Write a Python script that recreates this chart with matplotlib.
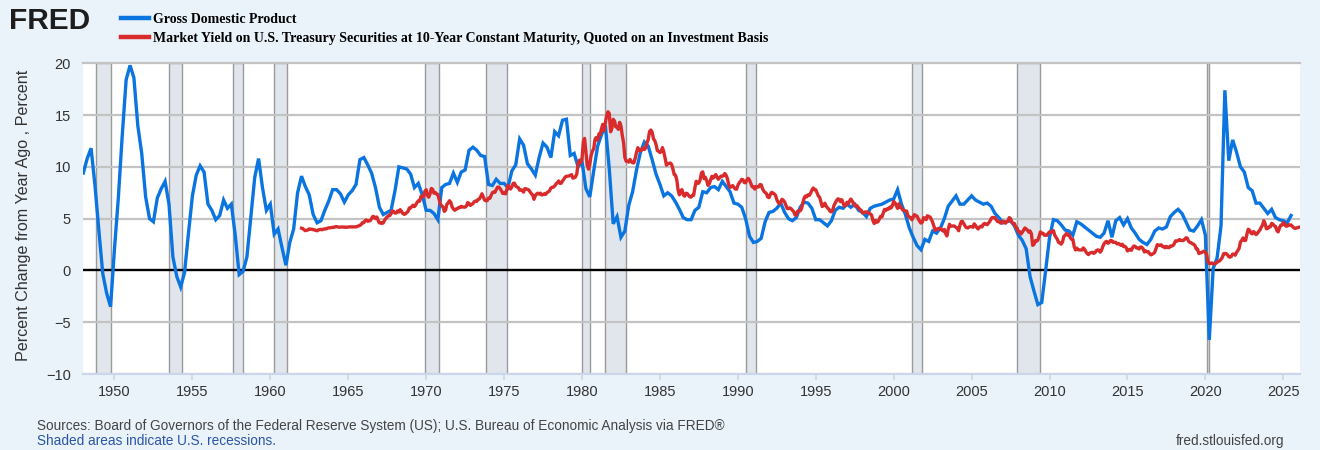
import matplotlib
matplotlib.use("Agg")
import matplotlib.pyplot as plt
import matplotlib.dates as mdates
import pandas as pd

# ---------------- data ----------------
gdp_label = "Gross Domestic Product"
yield_label = ("Market Yield on U.S. Treasury Securities at 10-Year Constant Maturity, "
               "Quoted on an Investment Basis")

# GDP, percent change from year ago, quarterly from 1948 Q1
gdp_yoy = [
    9.4, 10.8, 11.8, 8.2,     # 1948
    3.8, -0.3, -2.2, -3.5,    # 1949
    2.1, 7.0, 13.0, 18.4,     # 1950
    19.8, 18.6, 14.0, 11.3,   # 1951
    7.1, 5.0, 4.7, 7.0,       # 1952
    7.9, 8.6, 6.4, 1.3,       # 1953
    -0.6, -1.6, -0.2, 3.6,    # 1954
    7.2, 9.2, 10.1, 9.5,      # 1955
    6.4, 5.8, 4.9, 5.3,       # 1956
    6.8, 6.0, 6.4, 3.4,       # 1957
    -0.4, -0.1, 1.3, 5.1,     # 1958
    9.0, 10.8, 8.0, 5.8,      # 1959
    6.4, 3.5, 4.0, 2.2,       # 1960
    0.5, 2.7, 4.0, 7.5,       # 1961
    9.1, 8.1, 7.3, 5.4,       # 1962
    4.6, 4.8, 5.8, 6.7,       # 1963
    7.8, 7.8, 7.4, 6.6,       # 1964
    7.3, 7.7, 8.3, 10.7,      # 1965
    10.9, 10.2, 9.4, 8.0,     # 1966
    6.1, 5.4, 5.6, 5.8,       # 1967
    7.7, 10.0, 9.9, 9.8,      # 1968
    9.3, 8.0, 8.4, 7.3,       # 1969
    5.8, 5.8, 5.5, 4.9,       # 1970
    8.0, 8.3, 8.4, 9.4,       # 1971
    8.5, 9.5, 9.7, 11.6,      # 1972
    11.9, 11.6, 11.1, 11.0,   # 1973
    8.3, 8.2, 8.8, 8.4,       # 1974
    8.4, 8.0, 9.6, 10.2,      # 1975
    12.7, 12.1, 10.3, 9.8,    # 1976
    9.2, 10.9, 12.3, 11.9,    # 1977
    10.9, 13.4, 13.0, 14.5,   # 1978
    14.6, 11.1, 11.3, 10.0,   # 1979
    10.5, 7.9, 7.1, 9.6,      # 1980
    12.0, 13.1, 14.0, 9.8,    # 1981
    4.5, 5.2, 3.2, 3.8,       # 1982
    6.3, 7.6, 9.7, 11.4,      # 1983
    12.4, 12.0, 10.7, 9.3,    # 1984
    8.3, 7.2, 7.5, 7.2,       # 1985
    6.6, 5.9, 5.1, 4.9,       # 1986
    4.9, 5.8, 6.1, 7.6,       # 1987
    7.5, 8.0, 8.1, 7.8,       # 1988
    8.6, 8.1, 7.6, 6.5,       # 1989
    6.4, 6.1, 5.0, 3.3,       # 1990
    2.7, 2.8, 3.1, 4.7,       # 1991
    5.6, 5.7, 6.0, 6.5,       # 1992
    5.6, 5.0, 4.8, 5.1,       # 1993
    6.1, 6.6, 6.5, 6.0,       # 1994
    4.9, 4.9, 4.6, 4.3,       # 1995
    4.8, 5.8, 6.1, 6.0,       # 1996
    6.4, 6.1, 6.4, 5.8,       # 1997
    5.6, 5.2, 6.0, 6.2,       # 1998
    6.3, 6.4, 6.6, 6.8,       # 1999
    6.9, 7.8, 6.4, 5.4,       # 2000
    4.1, 3.2, 2.4, 2.0,       # 2001
    3.0, 2.8, 3.8, 3.6,       # 2002
    4.1, 5.0, 6.2, 6.7,       # 2003
    7.2, 6.4, 6.4, 6.8,       # 2004
    7.2, 6.8, 6.6, 6.4,       # 2005
    6.5, 6.2, 5.5, 5.1,       # 2006
    4.6, 4.7, 4.8, 4.3,       # 2007
    3.4, 2.9, 2.1, -0.6,      # 2008
    -2.0, -3.3, -3.1, 0.0,    # 2009
    3.2, 4.9, 4.8, 4.4,       # 2010
    3.9, 3.8, 3.4, 4.7,       # 2011
    4.5, 4.2, 3.9, 3.6,       # 2012
    3.3, 3.2, 3.6, 4.8,       # 2013
    3.2, 4.8, 5.1, 4.4,       # 2014
    5.0, 4.1, 3.6, 3.0,       # 2015
    2.7, 2.5, 3.0, 3.8,       # 2016
    4.1, 4.0, 4.2, 5.2,       # 2017
    5.6, 5.9, 5.5, 4.7,       # 2018
    3.9, 3.8, 4.3, 4.9,       # 2019
    3.4, -6.7, 0.2, 1.2,      # 2020
    4.3, 17.4, 10.6, 12.6,    # 2021
    11.4, 10.0, 9.5, 8.0,     # 2022
    7.7, 6.5, 6.5, 6.0,       # 2023
    5.5, 5.9, 5.1, 4.9,       # 2024
    4.8, 4.6, 5.3,            # 2025
]

# 10-year Treasury constant maturity yield, percent, monthly from Jan 1962
dgs10 = [
    4.08, 4.04, 3.93, 3.84, 3.87, 3.91, 4.01, 3.98, 3.98, 3.93, 3.92, 3.86,  # 1962
    3.83, 3.92, 3.93, 3.97, 3.93, 3.99, 4.02, 4.00, 4.08, 4.11, 4.12, 4.13,  # 1963
    4.17, 4.15, 4.22, 4.23, 4.20, 4.17, 4.19, 4.19, 4.20, 4.19, 4.15, 4.18,  # 1964
    4.19, 4.21, 4.21, 4.20, 4.21, 4.21, 4.20, 4.25, 4.29, 4.35, 4.45, 4.62,  # 1965
    4.61, 4.83, 4.87, 4.75, 4.78, 4.81, 5.02, 5.22, 5.18, 5.01, 5.16, 4.84,  # 1966
    4.58, 4.63, 4.54, 4.59, 4.85, 5.02, 5.16, 5.28, 5.30, 5.48, 5.75, 5.70,  # 1967
    5.53, 5.56, 5.74, 5.64, 5.87, 5.72, 5.50, 5.42, 5.46, 5.58, 5.70, 6.03,  # 1968
    6.04, 6.19, 6.30, 6.17, 6.32, 6.57, 6.72, 6.69, 7.16, 7.10, 7.14, 7.65,  # 1969
    7.79, 7.24, 7.07, 7.39, 7.91, 7.84, 7.46, 7.53, 7.39, 7.33, 6.84, 6.39,  # 1970
    6.24, 6.11, 5.70, 5.83, 6.39, 6.52, 6.73, 6.58, 6.14, 5.93, 5.81, 5.93,  # 1971
    5.95, 6.08, 6.07, 6.19, 6.13, 6.11, 6.11, 6.21, 6.55, 6.48, 6.28, 6.36,  # 1972
    6.46, 6.64, 6.71, 6.67, 6.85, 6.90, 7.13, 7.40, 7.09, 6.79, 6.73, 6.74,  # 1973
    6.99, 6.96, 7.21, 7.51, 7.58, 7.54, 7.81, 8.04, 8.04, 7.90, 7.68, 7.43,  # 1974
    7.50, 7.39, 7.73, 8.23, 8.06, 7.86, 8.06, 8.40, 8.43, 8.14, 8.05, 8.00,  # 1975
    7.74, 7.79, 7.73, 7.56, 7.90, 7.86, 7.83, 7.77, 7.59, 7.41, 7.29, 6.87,  # 1976
    7.21, 7.39, 7.46, 7.37, 7.46, 7.28, 7.33, 7.40, 7.34, 7.52, 7.58, 7.69,  # 1977
    7.96, 8.03, 8.04, 8.15, 8.35, 8.46, 8.64, 8.41, 8.42, 8.64, 8.81, 9.01,  # 1978
    9.10, 9.10, 9.12, 9.18, 9.25, 8.91, 8.95, 9.03, 9.33, 10.30, 10.65, 10.39,  # 1979
    10.80, 12.41, 12.75, 11.47, 10.18, 9.78, 10.25, 11.10, 11.51, 11.75, 12.68, 12.84,  # 1980
    12.57, 13.19, 13.12, 13.68, 14.10, 13.47, 14.28, 14.94, 15.32, 15.15, 13.39, 13.72,  # 1981
    14.59, 14.43, 13.86, 13.87, 13.62, 14.30, 13.95, 13.06, 12.34, 10.91, 10.55, 10.54,  # 1982
    10.46, 10.72, 10.51, 10.40, 10.38, 10.85, 11.38, 11.85, 11.65, 11.54, 11.69, 11.83,  # 1983
    11.67, 11.84, 12.32, 12.63, 13.41, 13.56, 13.36, 12.72, 12.52, 12.16, 11.57, 11.50,  # 1984
    11.38, 11.51, 11.86, 11.43, 10.85, 10.16, 10.31, 10.33, 10.37, 10.24, 9.78, 9.26,  # 1985
    9.19, 8.70, 7.78, 7.30, 7.71, 7.80, 7.30, 7.17, 7.45, 7.43, 7.25, 7.11,  # 1986
    7.08, 7.25, 7.25, 8.02, 8.61, 8.40, 8.45, 8.76, 9.42, 9.52, 8.86, 8.99,  # 1987
    8.67, 8.21, 8.37, 8.72, 9.09, 8.92, 9.06, 9.26, 8.98, 8.80, 8.96, 9.11,  # 1988
    9.09, 9.17, 9.36, 9.18, 8.86, 8.28, 8.02, 8.11, 8.19, 8.01, 7.87, 7.84,  # 1989
    8.21, 8.47, 8.59, 8.79, 8.76, 8.48, 8.47, 8.75, 8.89, 8.72, 8.39, 8.08,  # 1990
    8.09, 7.85, 8.11, 8.04, 8.07, 8.28, 8.27, 7.90, 7.65, 7.53, 7.42, 7.09,  # 1991
    7.03, 7.34, 7.54, 7.48, 7.39, 7.26, 6.84, 6.59, 6.42, 6.59, 6.87, 6.77,  # 1992
    6.60, 6.26, 5.98, 5.97, 6.04, 5.96, 5.81, 5.68, 5.36, 5.33, 5.72, 5.77,  # 1993
    5.75, 5.97, 6.48, 6.97, 7.18, 7.10, 7.30, 7.24, 7.46, 7.74, 7.96, 7.81,  # 1994
    7.78, 7.47, 7.20, 7.06, 6.63, 6.17, 6.28, 6.49, 6.20, 6.04, 5.93, 5.71,  # 1995
    5.65, 5.81, 6.27, 6.51, 6.74, 6.91, 6.87, 6.64, 6.83, 6.53, 6.20, 6.30,  # 1996
    6.58, 6.42, 6.69, 6.89, 6.71, 6.49, 6.22, 6.30, 6.21, 6.03, 5.88, 5.81,  # 1997
    5.54, 5.57, 5.65, 5.64, 5.65, 5.50, 5.46, 5.34, 4.81, 4.53, 4.83, 4.65,  # 1998
    4.72, 5.00, 5.23, 5.18, 5.54, 5.90, 5.79, 5.94, 5.92, 6.11, 6.03, 6.28,  # 1999
    6.66, 6.52, 6.26, 5.99, 6.44, 6.10, 6.05, 5.83, 5.80, 5.74, 5.72, 5.24,  # 2000
    5.16, 5.10, 4.89, 5.14, 5.39, 5.28, 5.24, 4.97, 4.73, 4.57, 4.65, 5.09,  # 2001
    5.04, 4.91, 5.28, 5.21, 5.16, 4.93, 4.65, 4.26, 3.87, 3.94, 4.05, 4.03,  # 2002
    4.05, 3.90, 3.81, 3.96, 3.57, 3.33, 3.98, 4.45, 4.27, 4.29, 4.30, 4.27,  # 2003
    4.15, 4.08, 3.83, 4.35, 4.72, 4.73, 4.50, 4.28, 4.13, 4.10, 4.19, 4.23,  # 2004
    4.22, 4.17, 4.50, 4.34, 4.14, 4.00, 4.18, 4.26, 4.20, 4.46, 4.54, 4.47,  # 2005
    4.42, 4.57, 4.72, 4.99, 5.11, 5.11, 5.09, 4.88, 4.72, 4.73, 4.60, 4.56,  # 2006
    4.76, 4.72, 4.56, 4.69, 4.75, 5.10, 5.00, 4.67, 4.52, 4.53, 4.15, 4.10,  # 2007
    3.74, 3.74, 3.51, 3.68, 3.88, 4.10, 4.01, 3.89, 3.69, 3.81, 3.53, 2.42,  # 2008
    2.52, 2.87, 2.82, 2.93, 3.29, 3.72, 3.56, 3.59, 3.40, 3.39, 3.40, 3.59,  # 2009
    3.73, 3.69, 3.73, 3.85, 3.42, 3.20, 3.01, 2.70, 2.65, 2.54, 2.76, 3.29,  # 2010
    3.39, 3.58, 3.41, 3.46, 3.17, 3.00, 3.00, 2.30, 1.98, 2.15, 2.01, 1.98,  # 2011
    1.97, 1.97, 2.17, 2.05, 1.80, 1.62, 1.53, 1.68, 1.72, 1.75, 1.65, 1.72,  # 2012
    1.91, 1.98, 1.96, 1.76, 1.93, 2.30, 2.58, 2.74, 2.81, 2.62, 2.72, 2.90,  # 2013
    2.86, 2.71, 2.72, 2.71, 2.56, 2.60, 2.54, 2.42, 2.53, 2.30, 2.33, 2.21,  # 2014
    1.88, 1.98, 2.04, 1.94, 2.20, 2.36, 2.32, 2.17, 2.17, 2.07, 2.26, 2.24,  # 2015
    2.09, 1.78, 1.89, 1.81, 1.81, 1.64, 1.50, 1.56, 1.63, 1.76, 2.14, 2.49,  # 2016
    2.43, 2.42, 2.48, 2.30, 2.30, 2.19, 2.32, 2.21, 2.20, 2.36, 2.35, 2.40,  # 2017
    2.58, 2.86, 2.84, 2.87, 2.98, 2.91, 2.89, 2.89, 3.00, 3.15, 3.12, 2.83,  # 2018
    2.71, 2.68, 2.57, 2.53, 2.40, 2.07, 2.06, 1.63, 1.70, 1.71, 1.81, 1.86,  # 2019
    1.76, 1.50, 0.87, 0.66, 0.67, 0.73, 0.62, 0.65, 0.68, 0.79, 0.87, 0.93,  # 2020
    1.08, 1.26, 1.61, 1.64, 1.62, 1.52, 1.32, 1.28, 1.37, 1.58, 1.56, 1.47,  # 2021
    1.76, 1.93, 2.13, 2.75, 2.90, 3.14, 2.90, 2.90, 3.52, 3.98, 3.89, 3.62,  # 2022
    3.53, 3.75, 3.66, 3.46, 3.57, 3.75, 3.90, 4.17, 4.38, 4.80, 4.50, 4.02,  # 2023
    4.06, 4.21, 4.21, 4.54, 4.48, 4.31, 4.25, 3.87, 3.72, 4.10, 4.36, 4.39,  # 2024
    4.63, 4.45, 4.28, 4.28, 4.42, 4.38, 4.39, 4.26, 4.12, 4.06, 4.09, 4.14,  # 2025
    4.17,                                                                    # 2026
]

# NBER recessions (peak month, trough month)
recession_starts = ["1948-11-01", "1953-07-01", "1957-08-01", "1960-04-01",
                    "1969-12-01", "1973-11-01", "1980-01-01", "1981-07-01",
                    "1990-07-01", "2001-03-01", "2007-12-01", "2020-02-01"]
recession_ends = ["1949-10-01", "1954-05-01", "1958-04-01", "1961-02-01",
                  "1970-11-01", "1975-03-01", "1980-07-01", "1982-11-01",
                  "1991-03-01", "2001-11-01", "2009-06-01", "2020-04-01"]

y_ticks = [-10, -5, 0, 5, 10, 15, 20]

# ---------------- figure ----------------
W, H = 1320, 450
BG = "#eaf2fa"
SANS = ["Liberation Sans", "DejaVu Sans"]

fig = plt.figure(figsize=(W / 100, H / 100), dpi=100, facecolor=BG)
ax = fig.add_axes([83.3 / W, 1 - 374 / H, (1300 - 83.3) / W, (374 - 63.3) / H])
ax.set_facecolor("white")

gdp_dates = pd.date_range("1948-01-01", periods=len(gdp_yoy), freq="QS")
yield_dates = pd.date_range("1962-01-01", periods=len(dgs10), freq="MS")

for s, e in zip(recession_starts, recession_ends):
    ax.axvspan(pd.Timestamp(s), pd.Timestamp(e), facecolor="#e1e6ec",
               edgecolor="#9a9a9a", linewidth=1.0, zorder=1)

for yv in y_ticks:
    if yv == 0:
        continue
    ax.axhline(yv, color="#c3c3c3", linewidth=1.6, zorder=1.5,
               clip_on=False if yv == 20 else True)
ax.axhline(0, color="black", linewidth=1.7, zorder=2)

l1, = ax.plot(gdp_dates, gdp_yoy, color="#0a74e0", linewidth=2.4,
              zorder=3, solid_joinstyle="miter", label=gdp_label)
l2, = ax.plot(yield_dates, dgs10, color="#d92b2b", linewidth=2.4,
              zorder=4, label=yield_label)

ax.set_ylim(-10, 20)
ax.set_yticks(y_ticks)
ax.set_xlim(pd.Timestamp("1948-01-01"), pd.Timestamp("2026-01-26"))
ax.xaxis.set_major_locator(mdates.YearLocator(5))
ax.xaxis.set_major_formatter(mdates.DateFormatter("%Y"))

for side in ("left", "right", "top"):
    ax.spines[side].set_visible(False)
ax.spines["bottom"].set_color("#ccd6eb")
ax.spines["bottom"].set_linewidth(1.5)

ax.tick_params(axis="x", direction="out", length=4, width=1.2, color="#ccd6eb",
               labelcolor="#333333", labelsize=10.5, pad=4)
ax.tick_params(axis="y", length=0, labelcolor="#333333", labelsize=10.5, pad=9)
for lab in ax.get_xticklabels() + ax.get_yticklabels():
    lab.set_family(SANS)

fig.text(24 / W, 1 - 215 / H, "Percent Change from Year Ago , Percent",
         rotation=90, ha="center", va="center", fontsize=11.6,
         color="#333333", family=SANS)

# header: FRED logo + legend
fig.text(9 / W, 1 - 21 / H, "FRED", fontsize=21.5, fontweight="bold",
         color="#1d1d1d", family=SANS, va="center", ha="left")

fig.legend(handles=[l1, l2], loc="upper left",
           bbox_to_anchor=(121 / W, 1 - 13 / H), frameon=False,
           borderpad=0, borderaxespad=0, handlelength=2.0, handletextpad=0.3,
           labelspacing=0.42,
           prop={"family": ["Liberation Serif"], "weight": "bold", "size": 10})
for line in fig.legends[0].get_lines():
    line.set_linewidth(3.2)

# footer
fig.text(37 / W, 1 - 426 / H,
         "Sources: Board of Governors of the Federal Reserve System (US); "
         "U.S. Bureau of Economic Analysis via FRED\u00ae",
         fontsize=9.8, color="#444444", family=SANS, va="center", ha="left")
fig.text(37 / W, 1 - 441 / H, "Shaded areas indicate U.S. recessions.",
         fontsize=9.8, color="#2a56a6", family=SANS, va="center", ha="left")
fig.text(1284 / W, 1 - 441 / H, "fred.stlouisfed.org",
         fontsize=9.8, color="#444444", family=SANS, va="center", ha="right")

fig.savefig("out.png", dpi=100, facecolor=BG)
